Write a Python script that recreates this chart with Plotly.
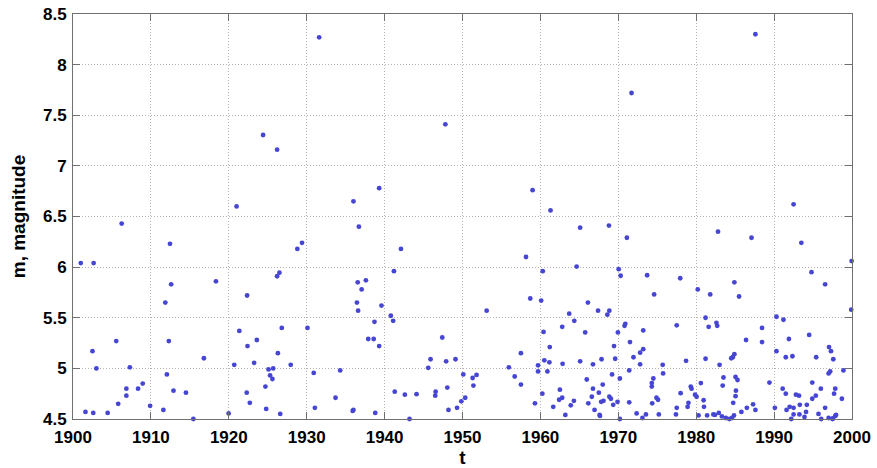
import plotly.graph_objects as go

# Event catalogue: year of occurrence and magnitude, 1900-2000
t = [
    # large events
    1906.25, 1912.45, 1921.0, 1924.4, 1926.2, 1928.8, 1931.6, 1929.4, 1936.0, 1939.3,
    1936.7, 1942.1, 1947.8, 1959.0, 1961.3, 1965.1, 1987.6, 1971.7, 1968.8, 1971.1,
    1982.8, 1987.1, 1992.5, 1993.5,
    # 1900-1916
    1901.0, 1902.65, 1912.6, 1911.85, 1905.55, 1902.5, 1912.3, 1903.0, 1907.3, 1912.05,
    1908.95, 1906.85, 1908.35, 1912.9, 1914.5, 1906.85, 1905.8, 1909.9, 1911.6, 1901.6,
    1902.6, 1904.45, 1915.45,
    # 1916-1931
    1926.5, 1926.2, 1918.35, 1922.35, 1921.35, 1926.8, 1930.1, 1923.6, 1922.4, 1926.3,
    1916.8, 1923.25, 1920.7, 1927.95, 1925.1, 1925.7, 1930.9, 1925.3, 1925.6, 1924.7,
    1922.3, 1922.7, 1924.8, 1926.6, 1931.05, 1919.98,
    # 1933-1949
    1941.2, 1936.55, 1937.6, 1937.05, 1936.45, 1936.6, 1939.6, 1940.8, 1941.1, 1938.7,
    1937.9, 1938.6, 1939.3, 1947.4, 1934.3, 1945.9, 1945.6, 1947.9, 1949.1, 1933.7,
    1935.9, 1936.0, 1938.8, 1941.3, 1942.6, 1944.1, 1946.55, 1946.5, 1948.05, 1943.2,
    1948.2, 1949.3,
    # 1949-1966
    1958.15, 1964.65, 1960.3, 1958.7, 1960.1, 1953.1, 1966.1, 1963.7, 1964.35, 1962.8,
    1965.75, 1960.4, 1961.2, 1957.5, 1960.5, 1961.15, 1962.85, 1965.1, 1959.7, 1955.95,
    1959.7, 1960.9, 1950.1, 1956.7, 1951.3, 1951.8, 1965.95, 1951.4, 1957.5, 1962.5,
    1960.25, 1962.8, 1962.4, 1964.3, 1950.35, 1949.85, 1959.3, 1966.15, 1963.9, 1961.65,
    1963.2,
    # 1966-1983
    1970.05, 1970.3, 1973.7, 1977.95, 1980.2, 1981.8, 1974.6, 1967.4, 1968.85, 1968.6,
    1970.9, 1970.8, 1981.2, 1981.6, 1982.6, 1982.7, 1977.5, 1973.2, 1969.95, 1971.5,
    1969.45, 1973.2, 1972.8, 1971.95, 1967.85, 1969.6, 1981.2, 1978.7, 1966.75, 1972.8,
    1975.7, 1971.4, 1975.75, 1969.2, 1970.2, 1974.5, 1974.3, 1974.3, 1968.0, 1966.75,
    1979.3, 1979.4, 1980.6, 1967.5, 1978.0, 1979.85, 1966.6, 1968.85, 1969.05, 1968.1,
    1967.8, 1971.4, 1974.9, 1975.1, 1974.35, 1969.35, 1969.9, 1979.0, 1980.05, 1980.95,
    1981.0, 1977.5, 1978.9, 1966.95, 1967.6, 1967.65, 1972.35, 1973.55, 1973.1, 1975.2,
    1977.4, 1970.2, 1980.3, 1981.4, 1982.4, 1982.9, 1983.0,
    # 1982-2000
    1999.95, 1994.8, 1996.55, 1984.9, 1985.5, 1999.9, 1990.3, 1991.2, 1988.45, 1986.4,
    1991.9, 1994.5, 1988.45, 1997.05, 1997.3, 1990.3, 1991.5, 1992.35, 1995.4, 1997.6,
    1984.9, 1984.7, 1984.5, 1998.9, 1997.2, 1997.0, 1983.5, 1985.05, 1985.3, 1983.4,
    1985.1, 1985.05, 1984.75, 1989.4, 1991.1, 1991.5, 1994.9, 1996.0, 1997.85, 1997.7,
    1998.7, 1992.8, 1993.2, 1995.35, 1994.9, 1987.3, 1987.6, 1986.5, 1985.8, 1990.1,
    1991.6, 1992.0, 1992.5, 1993.3, 1994.2, 1994.1, 1993.25, 1992.5, 1992.2, 1993.9,
    1995.7, 1996.05, 1996.55, 1997.0, 1997.5, 1997.55, 1997.95, 1997.85, 1983.3, 1983.8,
    1984.25, 1984.6, 1984.85, 1982.2,
]

m = [
    6.43, 6.23, 6.60, 7.305, 7.16, 6.18, 8.27, 6.24, 6.65, 6.78,
    6.40, 6.18, 7.41, 6.76, 6.56, 6.39, 8.30, 7.72, 6.41, 6.29,
    6.35, 6.29, 6.62, 6.24,
    6.04, 6.04, 5.83, 5.65, 5.27, 5.17, 5.27, 5.00, 5.01, 4.94,
    4.85, 4.80, 4.80, 4.78, 4.76, 4.73, 4.65, 4.63, 4.59, 4.57,
    4.56, 4.56, 4.50,
    5.945, 5.91, 5.86, 5.72, 5.37, 5.40, 5.40, 5.28, 5.22, 5.15,
    5.10, 5.055, 5.035, 5.035, 4.99, 5.00, 4.955, 4.93, 4.895, 4.82,
    4.76, 4.66, 4.60, 4.55, 4.61, 4.555,
    5.96, 5.85, 5.87, 5.78, 5.65, 5.57, 5.62, 5.52, 5.47, 5.46,
    5.29, 5.29, 5.22, 5.305, 4.98, 5.09, 5.005, 5.07, 5.09, 4.71,
    4.58, 4.59, 4.56, 4.77, 4.74, 4.745, 4.77, 4.73, 4.81, 4.50,
    4.59, 4.61,
    6.10, 6.005, 5.96, 5.69, 5.67, 5.57, 5.65, 5.54, 5.47, 5.41,
    5.355, 5.36, 5.21, 5.15, 5.08, 5.06, 5.045, 5.07, 5.03, 5.01,
    4.97, 4.97, 4.94, 4.92, 4.905, 4.935, 4.89, 4.83, 4.84, 4.79,
    4.75, 4.71, 4.69, 4.68, 4.71, 4.675, 4.655, 4.655, 4.635, 4.62,
    4.54,
    5.98, 5.915, 5.92, 5.89, 5.78, 5.73, 5.73, 5.57, 5.57, 5.53,
    5.44, 5.42, 5.50, 5.41, 5.45, 5.42, 5.425, 5.375, 5.355, 5.26,
    5.22, 5.19, 5.155, 5.11, 5.09, 5.095, 5.095, 5.075, 5.04, 5.04,
    5.035, 4.98, 4.95, 4.94, 4.90, 4.90, 4.855, 4.82, 4.84, 4.80,
    4.82, 4.80, 4.855, 4.76, 4.755, 4.74, 4.72, 4.72, 4.70, 4.68,
    4.67, 4.665, 4.71, 4.69, 4.655, 4.64, 4.67, 4.66, 4.72, 4.685,
    4.62, 4.61, 4.62, 4.59, 4.54, 4.53, 4.555, 4.545, 4.51, 4.545,
    4.545, 4.50, 4.535, 4.535, 4.54, 4.56, 5.035,
    6.06, 5.95, 5.83, 5.85, 5.71, 5.58, 5.51, 5.48, 5.40, 5.28,
    5.29, 5.33, 5.26, 5.21, 5.17, 5.17, 5.11, 5.12, 5.11, 5.09,
    5.14, 5.11, 5.10, 4.98, 4.97, 4.95, 4.91, 4.915, 4.885, 4.83,
    4.78, 4.725, 4.66, 4.86, 4.80, 4.75, 4.86, 4.80, 4.80, 4.75,
    4.70, 4.74, 4.73, 4.73, 4.70, 4.645, 4.59, 4.61, 4.57, 4.61,
    4.59, 4.62, 4.61, 4.64, 4.64, 4.57, 4.545, 4.545, 4.50, 4.52,
    4.55, 4.50, 4.61, 4.51, 4.50, 4.505, 4.54, 4.53, 4.525, 4.51,
    4.50, 4.51, 4.535, 4.545,
]

x_ticks = [1900, 1910, 1920, 1930, 1940, 1950, 1960, 1970, 1980, 1990, 2000]
y_ticks = [4.5, 5, 5.5, 6, 6.5, 7, 7.5, 8, 8.5]
y_tick_text = ["4.5", "5", "5.5", "6", "6.5", "7", "7.5", "8", "8.5"]

FONT = "Liberation Sans, Arial, sans-serif"

fig = go.Figure(
    go.Scatter(
        x=t, y=m, mode="markers",
        marker=dict(size=4.8, color="rgb(70,70,210)", line=dict(width=0)),
        cliponaxis=False,
        showlegend=False,
    )
)

axis_common = dict(
    showline=True, linecolor="#707070", linewidth=1, mirror="ticks",
    ticks="inside", ticklen=7, tickcolor="#707070", tickwidth=1,
    showgrid=True, gridcolor="#b4b4b4", gridwidth=1, griddash="1px,2px",
    zeroline=False, automargin=False,
    tickfont=dict(family=FONT, size=17, color="black", weight="bold"),
)

fig.update_xaxes(
    range=[1900, 2000], tickvals=x_ticks, ticktext=[str(v) for v in x_ticks],
    ticklabelstandoff=3,
    title=dict(text="t", font=dict(family=FONT, size=19, color="black", weight="bold"), standoff=3),
    **axis_common,
)
fig.update_yaxes(
    range=[4.5, 8.5], tickvals=y_ticks, ticktext=y_tick_text,
    ticklabelstandoff=2,
    title=dict(text="m, magnitude", font=dict(family=FONT, size=19, color="black", weight="bold"), standoff=12),
    **axis_common,
)

fig.update_layout(
    width=877, height=468,
    margin=dict(l=73, r=25, t=14, b=49),
    paper_bgcolor="white", plot_bgcolor="white",
)

fig.write_html("out.html")
